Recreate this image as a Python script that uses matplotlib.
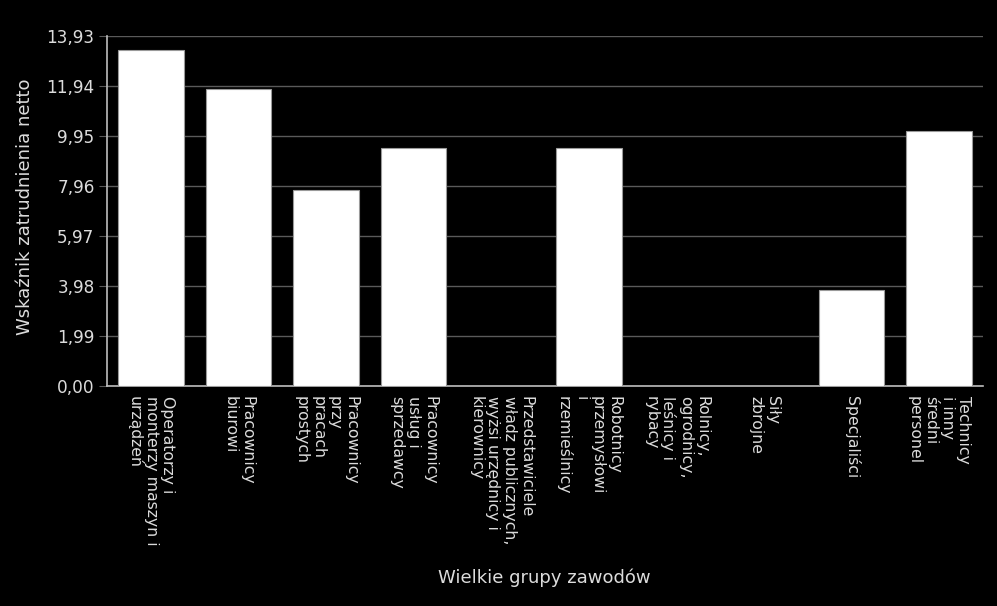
import matplotlib
matplotlib.use("Agg")
import matplotlib.pyplot as plt
import numpy as np

categories = [
    "Operatorzy i\nmonterzy maszyn i\nurządzeń",
    "Pracownicy\nbiurowi",
    "Pracownicy\nprzy\npracach\nprostych",
    "Pracownicy\nusług i\nsprzedawcy",
    "Przedstawiciele\nwładz publicznych,\nwyżsi urzędnicy i\nkierownicy",
    "Robotnicy\nprzemysłowi\ni\nrzemieślnicy",
    "Rolnicy,\nogrodnicy,\nleśnicy i\nrybacy",
    "Siły\nzbrojne",
    "Specjaliści",
    "Technicy\ni inny\nśredni\npersonel",
]
values = [13.37, 11.82, 7.79, 9.46, 0.0, 9.46, 0.0, 0.0, 3.81, 10.15]
yticks = [0.00, 1.99, 3.98, 5.97, 7.96, 9.95, 11.94, 13.93]
ytick_labels = ["0,00", "1,99", "3,98", "5,97", "7,96", "9,95", "11,94", "13,93"]

text_color = "#dcdcdc"
grid_color = "#5a5a5a"

fig = plt.figure(figsize=(9.97, 6.06), dpi=100, facecolor="black")
ax = fig.add_axes([107/997, 1 - 386/606, (983-107)/997, (386-36)/606])
ax.set_facecolor("black")

x = np.arange(len(categories))
ax.bar(x, values, width=0.75, color="white", edgecolor="#9a9a9a", linewidth=0.8, zorder=3)

ax.set_xlim(-0.5, len(categories) - 0.5)
ax.set_ylim(0, 13.93)
ax.set_yticks(yticks)
ax.set_yticklabels(ytick_labels, color=text_color, fontsize=12.2)
ax.set_xticks(x)
ax.set_xticklabels(categories, rotation=270, ha="center", va="top",
                   multialignment="left", color=text_color, fontsize=11.3,
                   linespacing=1.12)
ax.tick_params(axis="x", length=0, pad=7)
ax.tick_params(axis="y", length=6, color=grid_color, pad=3)

ax.grid(axis="y", color=grid_color, linewidth=1, zorder=0)
ax.set_axisbelow(True)

for side in ["top", "right"]:
    ax.spines[side].set_visible(False)
for side in ["left", "bottom"]:
    ax.spines[side].set_color("#bdbdbd")
    ax.spines[side].set_linewidth(1.2)

fig.text(544/997, 1 - 578/606, "Wielkie grupy zawodów", color=text_color,
         fontsize=13, ha="center", va="center")
fig.text(25/997, 1 - 207/606, "Wskaźnik zatrudnienia netto", color=text_color,
         fontsize=13, ha="center", va="center", rotation=90)

fig.savefig("out.png", dpi=100, facecolor="black")
